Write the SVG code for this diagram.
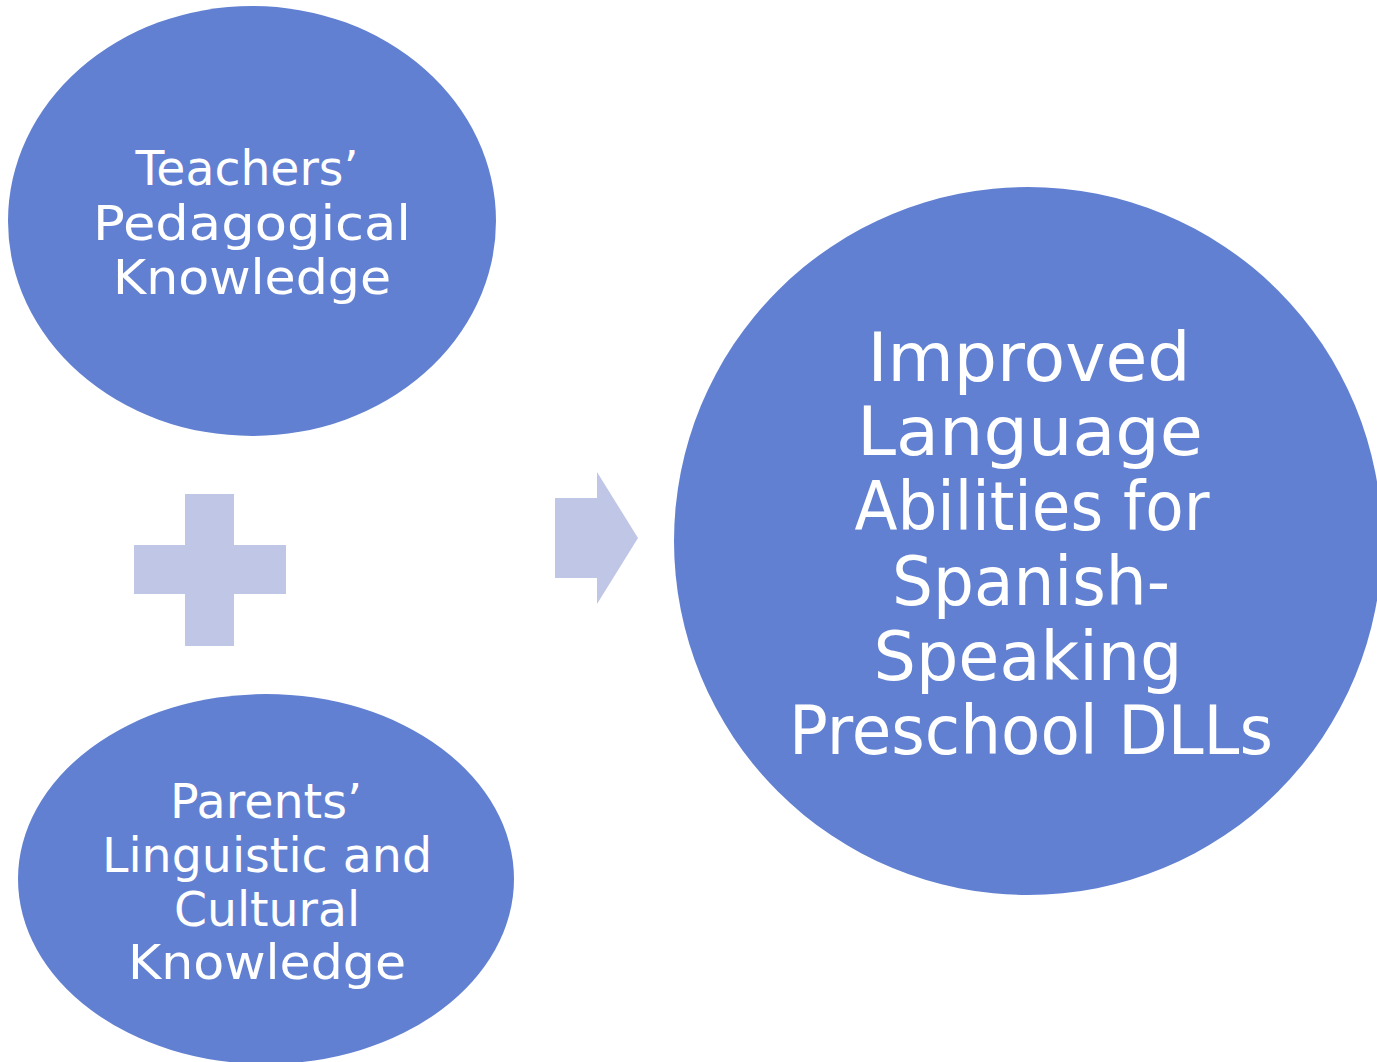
<svg xmlns="http://www.w3.org/2000/svg" width="1377" height="1062" viewBox="0 0 1377 1062">
  <style>
    .node { fill: #6280d2; }
    .sym { fill: #bfc6e6; }
    .label { fill: #ffffff; font-family: "DejaVu Sans", "Liberation Sans", sans-serif; text-anchor: middle; font-weight: normal; }
    .small { font-size: 48px; }
    .big { font-size: 68px; }
  </style>
  <rect width="1377" height="1062" fill="#ffffff"/>

  <g id="teachers">
    <ellipse class="node" cx="252" cy="221" rx="244" ry="215"/>
    <text class="label small" x="247" y="185" textLength="223" lengthAdjust="spacingAndGlyphs">Teachers’</text>
    <text class="label small" x="252" y="240" textLength="318" lengthAdjust="spacingAndGlyphs">Pedagogical</text>
    <text class="label small" x="252" y="294" textLength="278" lengthAdjust="spacingAndGlyphs">Knowledge</text>
  </g>

  <g id="parents">
    <ellipse class="node" cx="266" cy="879" rx="248" ry="185"/>
    <text class="label small" x="266" y="818" textLength="192" lengthAdjust="spacingAndGlyphs">Parents’</text>
    <text class="label small" x="267" y="872" textLength="330" lengthAdjust="spacingAndGlyphs">Linguistic and</text>
    <text class="label small" x="267" y="926" textLength="186" lengthAdjust="spacingAndGlyphs">Cultural</text>
    <text class="label small" x="267" y="979" textLength="278" lengthAdjust="spacingAndGlyphs">Knowledge</text>
  </g>

  <g id="outcome">
    <circle class="node" cx="1028" cy="541" r="354"/>
    <text class="label big" x="1029" y="381" textLength="323" lengthAdjust="spacingAndGlyphs">Improved</text>
    <text class="label big" x="1030" y="455" textLength="346" lengthAdjust="spacingAndGlyphs">Language</text>
    <text class="label big" x="1032" y="530" textLength="355" lengthAdjust="spacingAndGlyphs">Abilities for</text>
    <text class="label big" x="1031" y="605" textLength="278" lengthAdjust="spacingAndGlyphs">Spanish-</text>
    <text class="label big" x="1028" y="680" textLength="309" lengthAdjust="spacingAndGlyphs">Speaking</text>
    <text class="label big" x="1031" y="754" textLength="484" lengthAdjust="spacingAndGlyphs">Preschool DLLs</text>
  </g>

  <g id="connectors">
    <!-- plus sign between the two inputs -->
    <path class="sym" d="M185,494 H234 V545 H286 V594 H234 V646 H185 V594 H134 V545 H185 Z"/>
    <!-- arrow pointing to the outcome -->
    <path class="sym" d="M555,498 H597 V472 L638,538 L597,604 V578 H555 Z"/>
  </g>
</svg>
